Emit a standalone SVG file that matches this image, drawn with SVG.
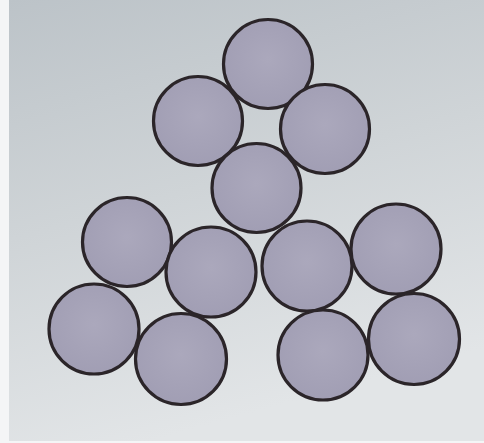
<svg xmlns="http://www.w3.org/2000/svg" width="484" height="443" viewBox="0 0 484 443">
<defs>
<linearGradient id="bg" x1="0" y1="0" x2="0.3" y2="1">
<stop offset="0" stop-color="#bcc3c8"/>
<stop offset="0.5" stop-color="#cfd4d7"/>
<stop offset="1" stop-color="#e2e5e7"/>
</linearGradient>
<radialGradient id="disc" cx="0.5" cy="0.45" r="0.6">
<stop offset="0" stop-color="#aba8bc"/>
<stop offset="1" stop-color="#a09db3"/>
</radialGradient>
</defs>
<style>
.c{fill:url(#disc);stroke:#2b2529;stroke-width:3.2}
</style>
<rect x="0" y="0" width="484" height="443" fill="#f4f5f6"/>
<rect x="9" y="0" width="475" height="441" fill="url(#bg)"/>
<g id="top-cluster">
<circle id="t1" class="c" cx="268" cy="64" r="44.5"/>
<circle id="t2" class="c" cx="198" cy="121" r="44.5"/>
<circle id="t3" class="c" cx="325" cy="129" r="44.5"/>
<circle id="t4" class="c" cx="256.5" cy="188" r="44.5"/>
</g>
<g id="left-cluster">
<circle id="l1" class="c" cx="127" cy="242" r="44.5"/>
<circle id="l2" class="c" cx="211" cy="272" r="45"/>
<circle id="l3" class="c" cx="94" cy="329" r="45"/>
<circle id="l4" class="c" cx="181" cy="359" r="45.5"/>
</g>
<g id="right-cluster">
<circle id="r1" class="c" cx="307" cy="266" r="45"/>
<circle id="r2" class="c" cx="396" cy="249" r="45"/>
<circle id="r3" class="c" cx="323" cy="355" r="45"/>
<circle id="r4" class="c" cx="414" cy="339" r="45.5"/>
</g>
</svg>
